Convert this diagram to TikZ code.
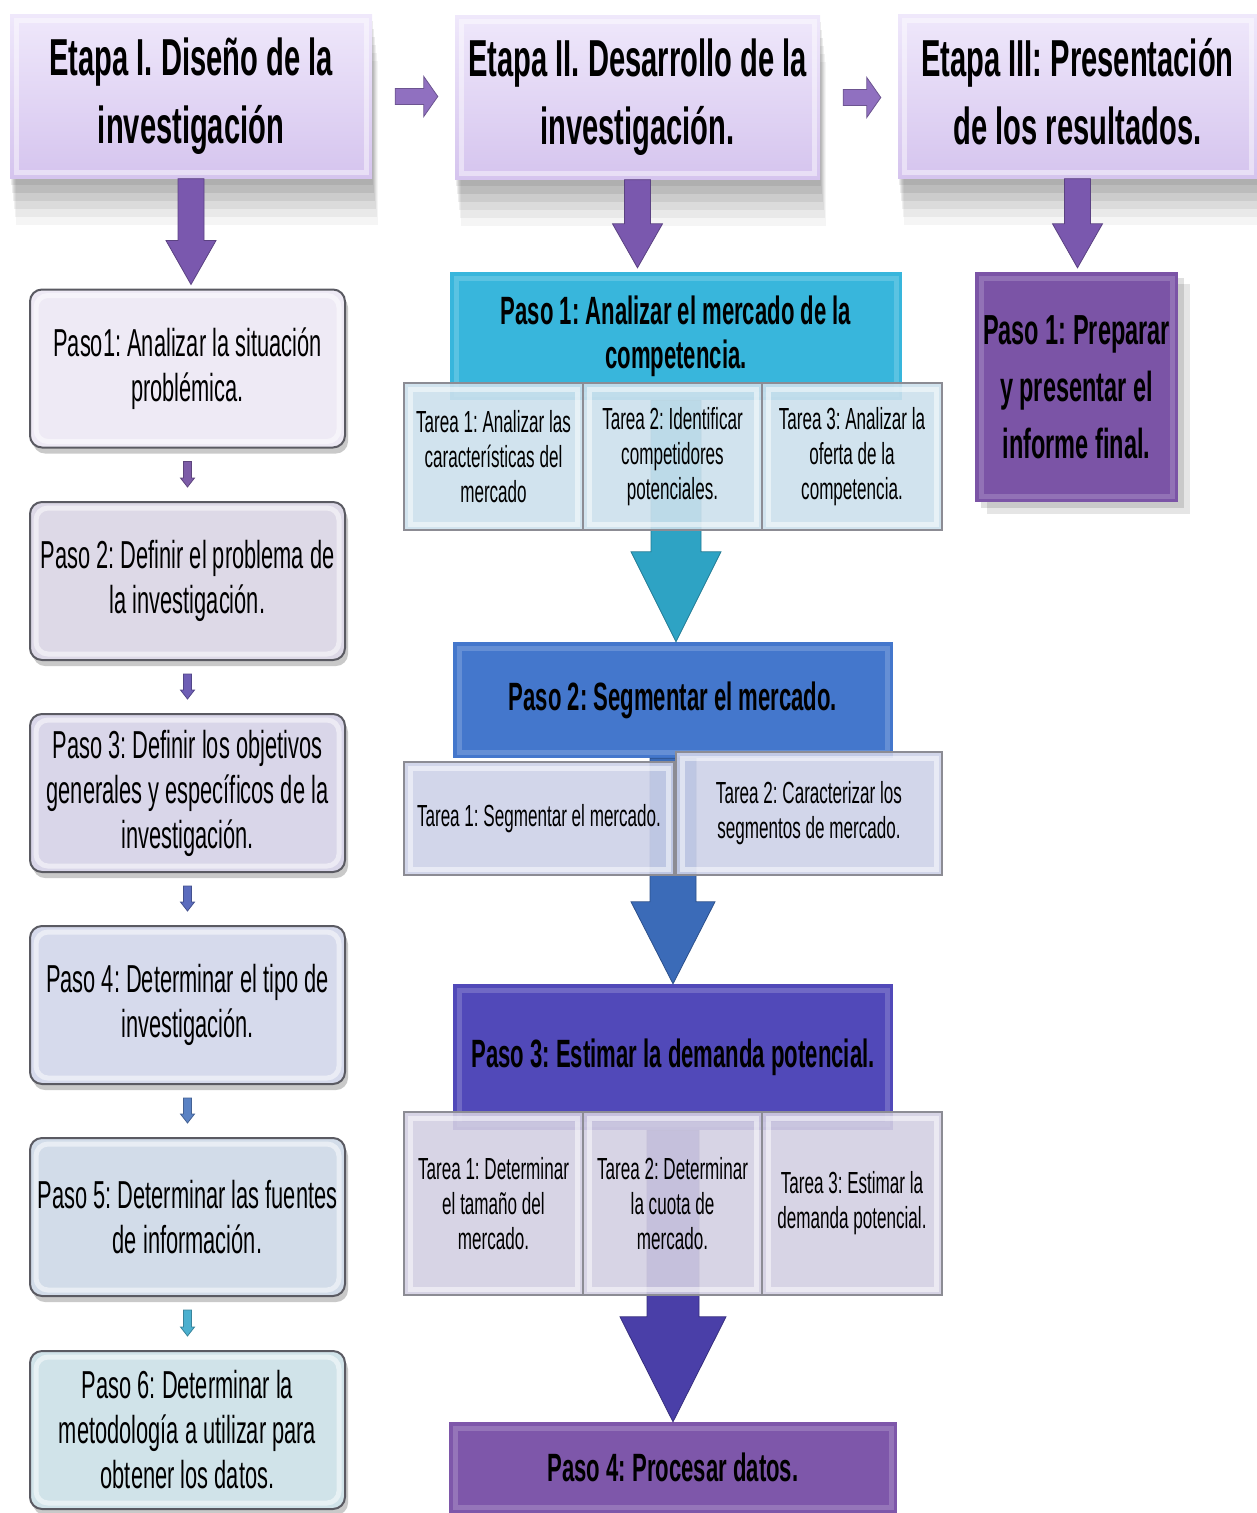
\documentclass[tikz,border=0pt]{standalone}
\usepackage{fontspec}
\setmainfont[FakeStretch=0.56]{Liberation Sans}
\usetikzlibrary{positioning,calc,shadows}

\definecolor{etapatop}{HTML}{EFE8FB}
\definecolor{etapabot}{HTML}{D5C4EE}
\definecolor{etapaarrow}{HTML}{7A58AE}
\definecolor{harrowcol}{HTML}{9070C0}
\definecolor{leftborder}{HTML}{5A5A62}
\definecolor{lb1}{HTML}{EEEAF5}
\definecolor{lb2}{HTML}{DDD9E7}
\definecolor{lb3}{HTML}{D9D6E9}
\definecolor{lb4}{HTML}{D6DAEC}
\definecolor{lb5}{HTML}{D2DCE9}
\definecolor{lb6}{HTML}{D0E3E9}
\definecolor{sa1}{HTML}{7D5CA8}
\definecolor{sa2}{HTML}{6E5EB5}
\definecolor{sa3}{HTML}{5B6CBE}
\definecolor{sa4}{HTML}{5A82C4}
\definecolor{sa5}{HTML}{4BB0CF}
\definecolor{paso1col}{HTML}{38B6DC}
\definecolor{paso2col}{HTML}{4477CC}
\definecolor{paso3col}{HTML}{5149B9}
\definecolor{paso4col}{HTML}{7E57AA}
\definecolor{finalcol}{HTML}{7B54A6}
\definecolor{tarea1col}{HTML}{CCE0EC}
\definecolor{tarea2col}{HTML}{CDD1E8}
\definecolor{tarea3col}{HTML}{D3CFE2}
\definecolor{tareaborder}{HTML}{8C8C94}
\definecolor{ma1}{HTML}{2EA3C4}
\definecolor{ma2}{HTML}{3B6BB8}
\definecolor{ma3}{HTML}{4A3FA8}

\newcommand\etapafont{\fontsize{52}{68}\selectfont\bfseries}
\newcommand\leftfont{\fontsize{39}{45}\selectfont}
\newcommand\pasofont{\fontsize{39.5}{44}\selectfont\bfseries}
\newcommand\tareafont{\fontsize{30.5}{35}\selectfont}
\newcommand\finalfont{\fontsize{42}{57}\selectfont\bfseries}

% block arrows: from, to, gap at start, gap at end, shaft half, head half, head length, style
\newcommand\vblock[8]{%
  \coordinate (vs) at ($(#1.south)+(0,#3)$);
  \coordinate (vt) at ($(#1.south |- #2.north)+(0,-#4)$);
  \fill[#8] ($(vs)+(-#5,0)$) -- ($(vt)+(-#5,-#7)$) -- ($(vt)+(-#6,-#7)$) -- (vt)
    -- ($(vt)+(#6,-#7)$) -- ($(vt)+(#5,-#7)$) -- ($(vs)+(#5,0)$) -- cycle;}
\newcommand\hblock[2]{%
  \coordinate (hs) at ($(#1.east)+(23,0)$);
  \coordinate (ht) at ($(#1.east -| #2.west)+(-17,0)$);
  \fill[blockarrow=harrowcol] ($(hs)+(0,-8)$) -- ($(ht)+(-14,-8)$) -- ($(ht)+(-14,-20)$) -- (ht)
    -- ($(ht)+(-14,20)$) -- ($(ht)+(-14,8)$) -- ($(hs)+(0,8)$) -- cycle;}

\tikzset{
  bevel/.style={path picture={\draw[white,opacity=#1,line width=5pt]
    ([shift={(6pt,-6pt)}]path picture bounding box.north west) rectangle
    ([shift={(-6pt,6pt)}]path picture bounding box.south east);}},
  bevel/.default=.4,
  softshadow/.style={drop shadow={shadow xshift=1pt,shadow yshift=-6pt,opacity=.07,fill=black},
    drop shadow={shadow xshift=2pt,shadow yshift=-14pt,opacity=.07,fill=black},
    drop shadow={shadow xshift=3pt,shadow yshift=-22pt,opacity=.07,fill=black},
    drop shadow={shadow xshift=4pt,shadow yshift=-30pt,opacity=.06,fill=black},
    drop shadow={shadow xshift=5pt,shadow yshift=-38pt,opacity=.05,fill=black},
    drop shadow={shadow xshift=6pt,shadow yshift=-46pt,opacity=.04,fill=black}},
  etapa/.style={rectangle,minimum width=362pt,minimum height=164pt,top color=etapatop,
    bottom color=etapabot,font=\etapafont,align=center,softshadow,bevel=.45},
  leftbox/.style={rectangle,rounded corners=12pt,draw=leftborder,line width=2pt,fill=#1,
    minimum width=315pt,minimum height=158pt,font=\leftfont,align=center,
    drop shadow={shadow xshift=3pt,shadow yshift=-6pt,opacity=.3,fill=black!70},bevel=.5},
  midbox/.style={rectangle,fill=#1,font=\pasofont,align=center,bevel=.18},
  tarea/.style={rectangle,fill=#1,fill opacity=.9,text opacity=1,draw=tareaborder,
    line width=1.5pt,font=\tareafont,align=center,bevel=.5},
  finalbox/.style={rectangle,fill=finalcol,minimum width=203pt,minimum height=230pt,
    font=\finalfont,align=center,bevel=.18,
    drop shadow={shadow xshift=6pt,shadow yshift=-6pt,opacity=.12,fill=black},
    drop shadow={shadow xshift=12pt,shadow yshift=-12pt,opacity=.1,fill=black}},
  blockarrow/.style={fill=#1,draw=#1!75!black,line width=.8pt},
}

\begin{document}
\frenchspacing
\begin{tikzpicture}[x=1pt,y=-1pt]
\useasboundingbox (0,0) rectangle (1257,1513);

% etapas
\node[etapa] (e1) at (191,96.5) {Etapa I. Diseño de la\\investigación};
\node[etapa,minimum width=365pt] (e2) at (637.5,97.5) {Etapa II. Desarrollo de la\\investigación.};
\node[etapa,minimum width=359pt] (e3) at (1077.5,96.5) {Etapa III: Presentación\\de los resultados.\vphantom{g}};
\hblock{e1}{e2}
\hblock{e2}{e3}

% etapa I
\node[leftbox=lb1] (b1) at (187.5,368.5) {Paso1: Analizar la situación\\problémica.};
\node[leftbox=lb2] (b2) at (187.5,581) {Paso 2: Definir el problema de\\la investigación.};
\node[leftbox=lb3] (b3) at (187.5,793) {Paso 3: Definir los objetivos\\generales y específicos de la\\investigación.};
\node[leftbox=lb4] (b4) at (187.5,1005) {Paso 4: Determinar el tipo de\\investigación.};
\node[leftbox=lb5] (b5) at (187.5,1217) {Paso 5: Determinar las fuentes\\de información.};
\node[leftbox=lb6] (b6) at (187.5,1430) {Paso 6: Determinar la\\metodología a utilizar para\\obtener los datos.};
\vblock{e1}{b1}{0}{4}{13}{25}{44}{blockarrow=etapaarrow}
\foreach \a/\b/\c in {b1/b2/sa1,b2/b3/sa2,b3/b4/sa3,b4/b5/sa4,b5/b6/sa5}
  \vblock{\a}{\b}{13}{14}{4}{7}{9}{blockarrow=\c};

% etapa II
\node[midbox=paso1col,minimum width=452pt,minimum height=128pt] (m1) at (676,336) {Paso 1: Analizar el mercado de la\\competencia.};
\node[midbox=paso2col,minimum width=440pt,minimum height=116pt] (m2) at (673,700) {Paso 2: Segmentar el mercado.};
\node[midbox=paso3col,minimum width=440pt,minimum height=146pt] (m3) at (673,1057) {Paso 3: Estimar la demanda potencial.};
\node[midbox=paso4col,minimum width=448pt,minimum height=91pt] (m4) at (673,1467.5) {Paso 4: Procesar datos.};
\vblock{e2}{m1}{0}{4}{13}{25}{44}{blockarrow=etapaarrow}
\vblock{m1}{m2}{0}{0}{25}{45}{90}{blockarrow=ma1}
\vblock{m2}{m3}{0}{0}{23}{42}{82}{blockarrow=ma2}
\vblock{m3}{m4}{0}{0}{26}{53}{105}{blockarrow=ma3}

\node[tarea=tarea1col,minimum width=179pt,minimum height=147pt] (t11) at (493.5,456.5) {Tarea 1: Analizar las\\características del\\mercado};
\node[tarea=tarea1col,minimum width=179pt,minimum height=147pt] (t12) at (672.5,456.5) {Tarea 2: Identificar\\competidores\\potenciales.};
\node[tarea=tarea1col,minimum width=180pt,minimum height=147pt] (t13) at (852,456.5) {Tarea 3: Analizar la\\oferta de la\\competencia.};
\node[tarea=tarea2col,minimum width=270pt,minimum height=113pt] (t21) at (539,818.5) {Tarea 1: Segmentar el mercado.};
\node[tarea=tarea2col,minimum width=266pt,minimum height=123pt] (t22) at (809,813.5) {Tarea 2: Caracterizar los\\segmentos de mercado.};
\node[tarea=tarea3col,minimum width=179pt,minimum height=183pt] (t31) at (493.5,1203.5) {Tarea 1: Determinar\\el tamaño del\\mercado.};
\node[tarea=tarea3col,minimum width=179pt,minimum height=183pt] (t32) at (672.5,1203.5) {Tarea 2: Determinar\\la cuota de\\mercado.};
\node[tarea=tarea3col,minimum width=180pt,minimum height=183pt] (t33) at (852,1203.5) {Tarea 3: Estimar la\\demanda potencial.};

% etapa III
\node[finalbox] (r1) at (1076.5,387) {Paso 1: Preparar\\y presentar el\\informe final.};
\vblock{e3}{r1}{0}{4}{13}{25}{44}{blockarrow=etapaarrow}
\end{tikzpicture}
\end{document}
